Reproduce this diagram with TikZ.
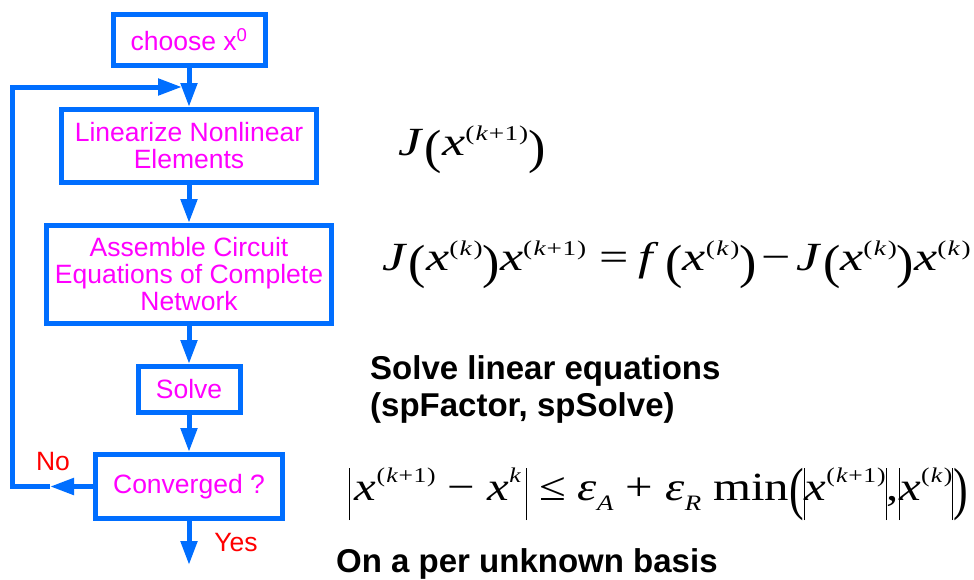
\documentclass[tikz,border=0pt]{standalone}
\usepackage{fontspec}
\setmainfont{Liberation Sans}
\newfontfamily\tnr{Liberation Serif}
\usetikzlibrary{arrows.meta}
\definecolor{fblue}{RGB}{0,110,255}
\definecolor{fmag}{RGB}{255,0,255}
\definecolor{fred}{RGB}{255,0,0}
\newcommand\eqsup[1]{\raisebox{0.36em}{\fontsize{21}{21}\selectfont #1}}
\newcommand\isup[1]{\raisebox{0.43em}{\fontsize{21}{21}\selectfont #1}}
\newcommand\eqsub[1]{\raisebox{-0.25em}{\fontsize{22}{22}\selectfont\itshape #1}}
\newcommand\vbar{\rule[-0.5em]{0.7pt}{1.3em}}
\newcommand\lpar{\raisebox{-0.22em}{\scalebox{1}[1.2]{(}}}
\newcommand\rpar{\raisebox{-0.22em}{\scalebox{1}[1.2]{)}}}
\newcommand\Lpar{\raisebox{-0.2em}{\scalebox{0.9}[1.45]{(}}}
\newcommand\Rpar{\raisebox{-0.2em}{\scalebox{0.9}[1.45]{)}}}
\newcommand\sk{\textit{k}}
\newcommand\supK{(\kern0.05em\sk\kern0.05em)}
\newcommand\supKp{(\kern0.05em\sk\kern0.02em+\kern0.02em1\kern0.03em)}
\newcommand\xK{\textit{x}\eqsup{\supK}}
\newcommand\xKp{\textit{x}\eqsup{\supKp}}
\tikzset{
  box/.style={draw=fblue, line width=5pt, text=fmag, font=\fontsize{26.5}{27}\selectfont, align=center, inner sep=0pt},
  arr/.style={draw=fblue, line width=5pt, -{Triangle[length=24pt,width=16pt]}},
  lbl/.style={text=fred, font=\fontsize{26.5}{27}\selectfont, inner sep=0pt},
  eq/.style={font=\tnr\fontsize{40}{40}\selectfont, inner sep=0pt, anchor=base west},
  boldtxt/.style={font=\bfseries\fontsize{33}{40}\selectfont, inner sep=0pt, anchor=base west}
}
\begin{document}
\begin{tikzpicture}[x=1pt,y=-1pt]
\useasboundingbox[fill=white] (0,0) rectangle (974,579);
% flowchart
\node[box, minimum width=152pt, minimum height=51pt] (choose) at (189,40) {choose x\textsuperscript{0}};
\node[box, minimum width=255pt, minimum height=73pt] (lin) at (189,146) {Linearize Nonlinear\\Elements};
\node[box, minimum width=285pt, minimum height=98pt] (asm) at (189,274.5) {Assemble Circuit\\Equations of Complete\\Network};
\node[box, minimum width=102pt, minimum height=46pt] (solve) at (189,389.5) {Solve};
\node[box, minimum width=187pt, minimum height=64pt] (conv) at (189,486.5) {Converged ?};
\coordinate (yesend) at (189,565);
\coordinate (nomid) at (50,486.5);
\coordinate (lc1) at (12.5,486.5);
\coordinate (lc2) at (12.5,87);
\coordinate (loopend) at (182,87);
\draw[arr] (choose) -- (lin);
\draw[arr] (lin) -- (asm);
\draw[arr] (asm) -- (solve);
\draw[arr] (solve) -- (conv);
\draw[arr] (conv) -- (yesend);
\draw[arr] (conv.west) -- (nomid);
\draw[arr, line join=miter] (nomid) -- (lc1) -- (lc2) -- (loopend);
\node[lbl] (no) at (53,462) {No};
\node[lbl] (yes) at (236,543) {Yes};
% equations
\node[eq] (eqa) at (398,155) {\scalebox{1.3}[1]{\textit{J}\kern0.03em\lpar\xKp\rpar}};
\node[eq] (eqb) at (382,270) {\scalebox{1.3}[1]{\textit{J}\kern0.03em\lpar\xK\rpar\xKp\ =\kern0.2em\textit{f}\kern0.12em\lpar\xK\rpar\kern0.1em−\kern0.1em\textit{J}\kern0.03em\lpar\xK\rpar\xK}};
\node[boldtxt] (s1) at (370,379) {Solve linear equations};
\node[boldtxt] (s2) at (370,416) {(spFactor, spSolve)};
\node[eq] (eqc) at (349,500) {\scalebox{1.22}[1]{\vbar\kern0.1em\textit{x}\isup{\supKp}\ −\ \textit{x}\isup{\sk}\kern0.1em\vbar\ ≤\ \textit{ε}\eqsub{A}\ +\ \textit{ε}\eqsub{R}\ min\Lpar\vbar\textit{x}\isup{\supKp}\vbar,\vbar\textit{x}\isup{\supK}\vbar\Rpar}};
\node[boldtxt] (s3) at (336,572) {On a per unknown basis};
\end{tikzpicture}
\end{document}
